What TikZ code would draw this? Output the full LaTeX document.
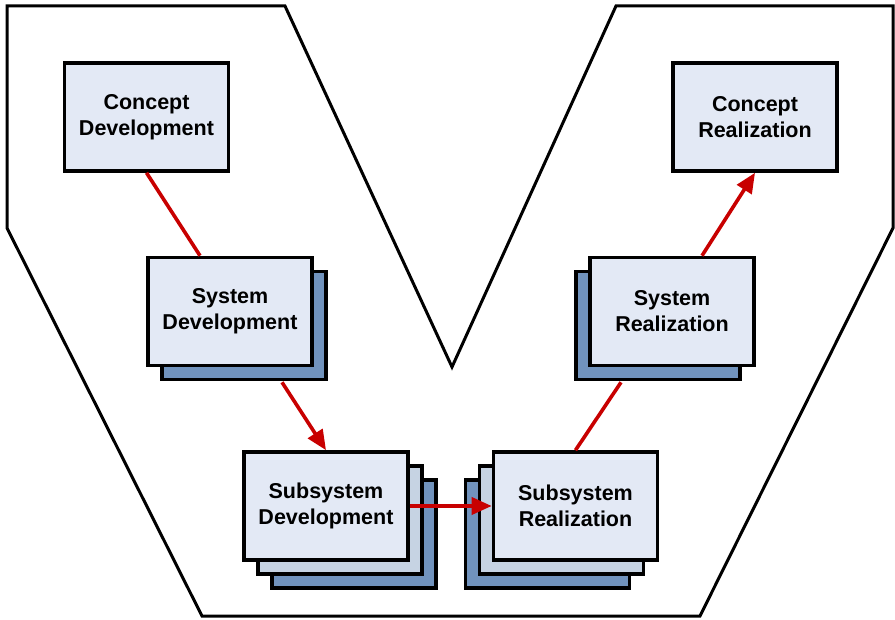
\documentclass[tikz,border=0pt]{standalone}
\usepackage{fontspec}
\setmainfont{Liberation Sans}
\usetikzlibrary{calc,arrows.meta}
\definecolor{frontfill}{HTML}{E3E9F5}
\definecolor{midfill}{HTML}{C6D3E3}
\definecolor{backfill}{HTML}{7193BD}
\definecolor{arrowred}{HTML}{C80000}
\tikzset{
  box/.style={draw=black, line width=3.6pt, minimum width=164pt, minimum height=108pt,
    inner sep=0pt, align=center, font=\fontsize{21.5}{26}\selectfont\bfseries},
  frontbox/.style={box, fill=frontfill},
  midbox/.style={box, fill=midfill},
  backbox/.style={box, fill=backfill},
  conn/.style={draw=arrowred, line width=3.6pt},
  arr/.style={conn, -{Triangle[length=20pt,width=17pt]}},
  outline/.style={draw=black, line width=3pt, line join=miter}
}
\begin{document}
\begin{tikzpicture}[x=1pt,y=-1pt]
\useasboundingbox (0,0) rectangle (895,620);
\fill[white] (0,0) rectangle (895,620);
% outer V shape
\draw[outline] (7,6) -- (285,6) -- (452,367) -- (616,6) -- (893,6) -- (893,228)
  -- (700,616) -- (202,616) -- (7,228) -- cycle;
% concept boxes
\node[frontbox] (cd) at (146.5,117) {Concept\\Development};
\node[frontbox] (cr) at (755,117) {Concept\\Realization};
% system boxes
\node[backbox] (sdb) at (244,325.5) {};
\node[frontbox] (sd) at (230,311.5) {System\\Development};
\node[backbox] (srb) at (658,325.5) {};
\node[frontbox] (sr) at (672,311.5) {System\\Realization};
% subsystem boxes
\node[backbox] (ssdb) at (354,534) {};
\node[midbox] (ssdm) at (340,520) {};
\node[frontbox] (ssd) at (326,506) {Subsystem\\Development};
\node[backbox] (ssrb) at (547.5,534) {};
\node[midbox] (ssrm) at (561.5,520) {};
\node[frontbox] (ssr) at (575.5,506) {Subsystem\\Realization};
% connectors
\draw[conn] (cd.south) -- ($(sd.north)+(-30,0)$);
\draw[arr] ($(sdb.south)+(38,1)$) -- (ssd.north);
\draw[arr] (ssd.east) -- (ssr.west);
\draw[conn] (ssr.north) -- ($(srb.south)+(-37,1)$);
\draw[arr] ($(sr.north)+(30,0)$) -- (cr.south);
\end{tikzpicture}
\end{document}
